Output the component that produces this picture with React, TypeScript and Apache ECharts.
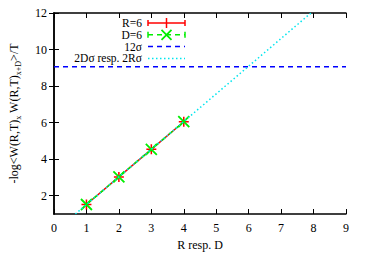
import React, { useEffect, useRef } from "react";
import * as echarts from "echarts";

const rdX = [1, 2, 3, 4];
const rValues = [1.52, 3.03, 4.54, 6.05];
const dValues = [1.52, 3.03, 4.54, 6.05];
const sigma12 = 9.06;
const sigma12X = [0, 9];
const twoSigmaX = [0.66, 7.92];
const twoSigmaY = [1, 12];
const xTicks = [0, 1, 2, 3, 4, 5, 6, 7, 8, 9];
const yTicks = [2, 4, 6, 8, 10, 12];
const legendLabels = ["R=6", "D=6", "12σ", "2Dσ resp. 2Rσ"];

const FONT = "Liberation Serif";

export default function App() {
  const ref = useRef<HTMLDivElement>(null);
  useEffect(() => {
    if (!ref.current) return;
    const chart = echarts.init(ref.current, undefined, { renderer: "svg" });
    const gridLeft = 48, gridRight = 20, gridTop = 13, gridBottom = 36;
    const axisLine = { show: true, lineStyle: { color: "#000", width: 1.5 } };
    const tick = { show: true, inside: true, length: 5, lineStyle: { color: "#000", width: 1 } };
    const yTick = { ...tick, customValues: yTicks };
    const lbl = { fontFamily: FONT, fontSize: 12, color: "#000", fontWeight: "normal" as const };
    const lx0 = 148, lx1 = 185, lxm = 166.5, ltx = 142;
    const rows = [23, 34.8, 46.6, 58.4];
    const graphic: any[] = [];
    legendLabels.forEach((t, i) => {
      graphic.push({
        type: "text", x: ltx, y: rows[i], z: 100,
        style: { text: t, fill: "#000", fontFamily: FONT, fontSize: 11.5, lineHeight: 11, align: "right", verticalAlign: "middle" },
      });
    });
    // R=6
    graphic.push({ type: "line", z: 100, shape: { x1: lx0, y1: rows[0], x2: lx1, y2: rows[0] }, style: { stroke: "#ff0000", lineWidth: 1.5 } });
    graphic.push({ type: "line", z: 100, shape: { x1: lx0, y1: rows[0] - 3, x2: lx0, y2: rows[0] + 3 }, style: { stroke: "#ff0000", lineWidth: 1.5 } });
    graphic.push({ type: "line", z: 100, shape: { x1: lx1, y1: rows[0] - 3, x2: lx1, y2: rows[0] + 3 }, style: { stroke: "#ff0000", lineWidth: 1.5 } });
    graphic.push({ type: "line", z: 100, shape: { x1: lxm, y1: rows[0] - 5, x2: lxm, y2: rows[0] + 5 }, style: { stroke: "#ff0000", lineWidth: 1.5 } });
    // D=6
    graphic.push({ type: "line", z: 100, shape: { x1: lx0, y1: rows[1], x2: lx1, y2: rows[1] }, style: { stroke: "#00ee00", lineWidth: 1.5, lineDash: [5, 4] } });
    graphic.push({ type: "line", z: 100, shape: { x1: lx0, y1: rows[1] - 3, x2: lx0, y2: rows[1] + 3 }, style: { stroke: "#00ee00", lineWidth: 1.5 } });
    graphic.push({ type: "line", z: 100, shape: { x1: lx1, y1: rows[1] - 3, x2: lx1, y2: rows[1] + 3 }, style: { stroke: "#00ee00", lineWidth: 1.5 } });
    graphic.push({ type: "line", z: 100, shape: { x1: lxm - 5, y1: rows[1] - 5, x2: lxm + 5, y2: rows[1] + 5 }, style: { stroke: "#00ee00", lineWidth: 1.8 } });
    graphic.push({ type: "line", z: 100, shape: { x1: lxm - 5, y1: rows[1] + 5, x2: lxm + 5, y2: rows[1] - 5 }, style: { stroke: "#00ee00", lineWidth: 1.8 } });
    // 12 sigma
    graphic.push({ type: "line", z: 100, shape: { x1: lx0, y1: rows[2], x2: lx1, y2: rows[2] }, style: { stroke: "#0000ff", lineWidth: 1.5, lineDash: [5, 4] } });
    // 2D sigma
    graphic.push({ type: "line", z: 100, shape: { x1: lx0, y1: rows[3], x2: lx1, y2: rows[3] }, style: { stroke: "#00e5ee", lineWidth: 1.5, lineDash: [1.5, 2.5] } });

    chart.setOption({
      animation: false,
      grid: { left: gridLeft, right: gridRight, top: gridTop, bottom: gridBottom, show: false },
      xAxis: [
        {
          type: "value", min: 0, max: 9, interval: 1, position: "bottom",
          axisLine, axisTick: tick, splitLine: { show: false },
          axisLabel: { ...lbl, margin: 8, formatter: (v: number) => (xTicks.includes(v) ? String(v) : "") },
          name: "{a|R resp. D}", nameLocation: "middle", nameGap: 25,
          nameTextStyle: { ...lbl, rich: { a: { fontFamily: FONT, fontSize: 12, color: "#000", fontWeight: "normal" } } },
        },
        {
          type: "value", min: 0, max: 9, interval: 1, position: "top",
          axisLine, axisTick: tick, splitLine: { show: false }, axisLabel: { show: false },
        },
      ],
      yAxis: [
        {
          type: "value", min: 1, max: 12, position: "left",
          axisLine, axisTick: yTick, splitLine: { show: false },
          axisLabel: { ...lbl, margin: 7, customValues: yTicks },
          name: "{n|-log<W(R,T)}{s|x}{n| W(R,T)}{s|x+D}{n|>/T}",
          nameLocation: "middle", nameRotate: 90, nameGap: 32,
          nameTextStyle: {
            ...lbl,
            rich: {
              n: { fontFamily: FONT, fontSize: 12, color: "#000", lineHeight: 16, verticalAlign: "middle" },
              s: { fontFamily: FONT, fontSize: 8, color: "#000", lineHeight: 16, verticalAlign: "bottom" },
            },
          },
        },
        {
          type: "value", min: 1, max: 12, position: "right",
          axisLine, axisTick: yTick, splitLine: { show: false }, axisLabel: { show: false },
        },
      ],
      series: [
        {
          name: "12σ", type: "line", symbol: "none", z: 2,
          data: sigma12X.map((x) => [x, sigma12]),
          lineStyle: { color: "#0000ff", width: 1.5, type: [5, 4] },
        },
        {
          name: "R=6", type: "line", z: 3,
          data: rdX.map((x, i) => [x, rValues[i]]),
          lineStyle: { color: "#ff0000", width: 1.5 },
          symbol: "path://M0,5L10,5M5,0L5,10", symbolSize: 10,
          itemStyle: { color: "none", borderColor: "#ff0000", borderWidth: 1.5 },
        },
        {
          name: "D=6", type: "line", z: 4,
          data: rdX.map((x, i) => [x, dValues[i]]),
          lineStyle: { color: "#00ee00", width: 1.5, type: [5, 4] },
          symbol: "path://M0,0L10,10M10,0L0,10", symbolSize: 11,
          itemStyle: { color: "none", borderColor: "#00ee00", borderWidth: 1.8 },
        },
        {
          name: "2Dσ resp. 2Rσ", type: "line", symbol: "none", z: 5,
          data: twoSigmaX.map((x, i) => [x, twoSigmaY[i]]),
          lineStyle: { color: "#00e5ee", width: 1.5, type: [1.5, 2.5] },
        },
      ],
      graphic,
    });
    return () => chart.dispose();
  }, []);
  return <div ref={ref} style={{ width: 366, height: 256, position: "absolute", left: 0, top: 0 }} />;
}
